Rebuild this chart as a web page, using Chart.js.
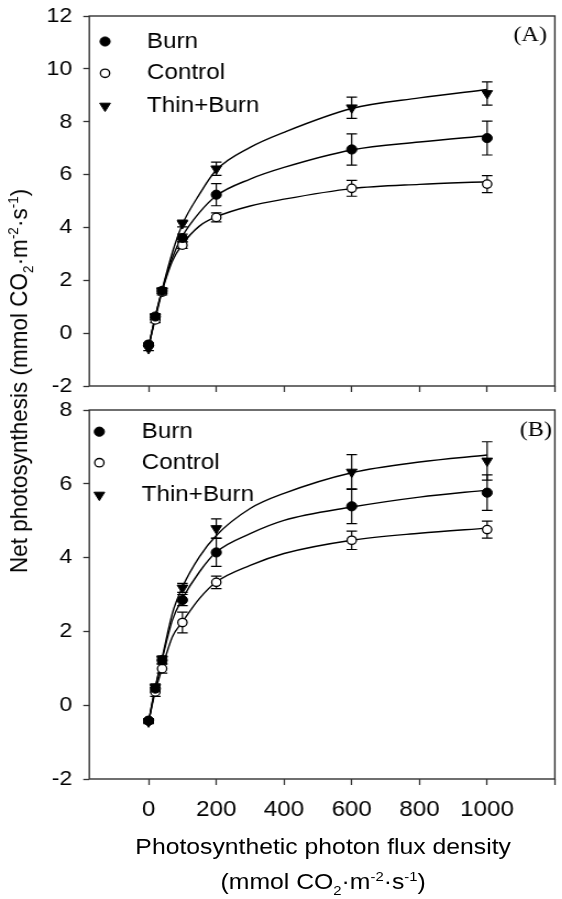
<!DOCTYPE html>
<html>
<head>
<meta charset="utf-8">
<script src="https://cdn.jsdelivr.net/npm/chart.js@4/dist/chart.umd.min.js"></script>
<style>
html,body{margin:0;padding:0;background:#fff;width:562px;height:899px;overflow:hidden}
#wrap{position:absolute;left:0;top:0;width:511px;height:899px;transform:scaleX(1.1);transform-origin:0 0;font-family:'Liberation Sans',Arial,sans-serif;color:#000}
canvas{position:absolute;left:0}
#cA{top:0}
#cB{top:400px}
.ytitle{position:absolute;left:18px;top:381px;transform:translate(-50%,-50%) rotate(-90deg);white-space:nowrap;font-size:22.5px;line-height:1}
.xt{position:absolute;left:293.8px;transform:translateX(-50%);white-space:nowrap;font-size:22.5px;line-height:22.5px}
sub,sup{font-size:60%;line-height:0}
</style>
</head>
<body>
<div id="wrap">
<canvas id="cA" width="511" height="400" style="width:511px;height:400px"></canvas>
<canvas id="cB" width="511" height="499" style="width:511px;height:499px"></canvas>
<div class="ytitle">Net photosynthesis (mmol CO<sub>2</sub>·m<sup>-2</sup>·s<sup>-1</sup>)</div>
<div class="xt" style="top:836px">Photosynthetic photon flux density</div>
<div class="xt" style="top:871px">(mmol CO<sub>2</sub>·m<sup>-2</sup>·s<sup>-1</sup>)</div>
</div>
<script>
// ---------- data ----------
const seriesNames = ['Burn', 'Control', 'Thin+Burn'];
const xPts = [0, 20, 40, 100, 200, 600, 1000];
const fitX = [0, 20, 40, 70, 100, 150, 200, 300, 400, 600, 800, 1000];
const xTicks = [0, 200, 400, 600, 800, 1000, 1200];
const yTicksA = [-2, 0, 2, 4, 6, 8, 10, 12];
const yTicksB = [-2, 0, 2, 4, 6, 8];

// Panel A
const aBurn       = [-0.45, 0.63, 1.60, 3.60, 5.24, 6.95, 7.38];
const aBurnErr    = [0.05, 0.10, 0.10, 0.15, 0.42, 0.59, 0.64];
const aControl    = [-0.42, 0.50, 1.55, 3.33, 4.38, 5.48, 5.64];
const aControlErr = [0.05, 0.10, 0.10, 0.12, 0.17, 0.30, 0.32];
const aThin       = [-0.58, 0.62, 1.60, 4.15, 6.22, 8.53, 9.07];
const aThinErr    = [0.08, 0.10, 0.10, 0.13, 0.25, 0.40, 0.44];
const aBurnFit    = [-0.50, 0.63, 1.62, 2.85, 3.67, 4.56, 5.20, 5.83, 6.27, 6.93, 7.23, 7.47];
const aControlFit = [-0.50, 0.55, 1.58, 2.72, 3.36, 4.05, 4.40, 4.81, 5.07, 5.47, 5.63, 5.73];
const aThinFit    = [-0.55, 0.65, 1.65, 3.04, 4.12, 5.25, 6.17, 7.03, 7.60, 8.50, 8.90, 9.22];

// Panel B
const bBurn       = [-0.42, 0.45, 1.22, 2.85, 4.14, 5.39, 5.76];
const bBurnErr    = [0.05, 0.10, 0.10, 0.15, 0.38, 0.47, 0.48];
const bControl    = [-0.42, 0.36, 0.99, 2.24, 3.33, 4.47, 4.76];
const bControlErr = [0.05, 0.12, 0.12, 0.28, 0.17, 0.25, 0.23];
const bThin       = [-0.45, 0.48, 1.24, 3.18, 4.79, 6.32, 6.62];
const bThinErr    = [0.05, 0.10, 0.10, 0.12, 0.26, 0.47, 0.52];
const bBurnFit    = [-0.45, 0.47, 1.24, 2.30, 2.89, 3.61, 4.15, 4.65, 5.01, 5.37, 5.64, 5.83];
const bControlFit = [-0.45, 0.38, 1.00, 1.85, 2.26, 2.89, 3.34, 3.79, 4.11, 4.47, 4.66, 4.80];
const bThinFit    = [-0.45, 0.50, 1.28, 2.48, 3.20, 4.02, 4.60, 5.33, 5.74, 6.30, 6.59, 6.78];

// ---------- styles ----------
const FONT = "'Liberation Sans', Arial, sans-serif";
Chart.defaults.font.family = FONT;
Chart.defaults.color = '#000';
const styles = [
  {pointStyle: 'circle', radius: 4.6, rotation: 0, bg: '#000', border: '#000', bw: 1},
  {pointStyle: 'circle', radius: 4.2, rotation: 0, bg: '#fff', border: '#000', bw: 1.3},
  {pointStyle: 'triangle', radius: 5.6, rotation: 180, bg: '#000', border: '#000', bw: 1}
];

const panelPlugin = {
  id: 'panelPlugin',
  beforeDatasetsDraw(chart) {
    const ctx = chart.ctx, xs = chart.scales.x, ys = chart.scales.y;
    const cap = 4.8;
    ctx.save();
    ctx.strokeStyle = '#000';
    ctx.lineWidth = 1.2;
    chart.data.datasets.forEach(ds => {
      if (!ds.errors) return;
      ds.data.forEach((pt, k) => {
        const e = ds.errors[k];
        if (!e) return;
        const px = xs.getPixelForValue(pt.x);
        const y1 = ys.getPixelForValue(pt.y + e);
        const y2 = ys.getPixelForValue(pt.y - e);
        ctx.beginPath();
        ctx.moveTo(px, y1); ctx.lineTo(px, y2);
        ctx.moveTo(px - cap, y1); ctx.lineTo(px + cap, y1);
        ctx.moveTo(px - cap, y2); ctx.lineTo(px + cap, y2);
        ctx.stroke();
      });
    });
    ctx.restore();
  },
  afterDraw(chart, args, opts) {
    const ctx = chart.ctx, a = chart.chartArea;
    ctx.save();
    ctx.strokeStyle = '#333';
    ctx.lineWidth = 1.4;
    ctx.strokeRect(a.left, a.top, a.right - a.left, a.bottom - a.top);
    // legend
    const lg = opts.legend;
    seriesNames.forEach((name, i) => {
      const s = styles[i];
      ctx.fillStyle = s.bg;
      ctx.strokeStyle = s.border;
      ctx.lineWidth = s.bw;
      Chart.helpers.drawPoint(ctx, {pointStyle: s.pointStyle, radius: s.radius, rotation: s.rotation, borderWidth: s.bw}, lg.mx, lg.rows[i]);
      ctx.fillStyle = '#000';
      ctx.font = '22px ' + FONT;
      ctx.textBaseline = 'middle';
      ctx.textAlign = 'left';
      ctx.fillText(name, lg.tx, lg.rows[i]);
    });
    // panel label
    ctx.font = "22px 'Liberation Serif', 'Times New Roman', serif";
    ctx.textAlign = 'right';
    ctx.textBaseline = 'middle';
    ctx.fillStyle = '#000';
    ctx.fillText(opts.label, opts.labelX, opts.labelY);
    ctx.restore();
  }
};

function makePanel(id, p) {
  const pts = [p.burn, p.control, p.thin];
  const errs = [p.burnErr, p.controlErr, p.thinErr];
  const fits = [p.burnFit, p.controlFit, p.thinFit];
  const datasets = [];
  pts.forEach((vals, i) => {
    const s = styles[i];
    datasets.push({
      label: seriesNames[i],
      data: xPts.map((x, k) => ({x: x, y: vals[k]})),
      showLine: false,
      pointStyle: s.pointStyle,
      pointRadius: s.radius,
      pointHoverRadius: s.radius,
      pointRotation: s.rotation,
      pointBackgroundColor: s.bg,
      pointBorderColor: s.border,
      pointBorderWidth: s.bw,
      errors: errs[i]
    });
  });
  fits.forEach((vals, i) => {
    datasets.push({
      label: seriesNames[i] + ' fit',
      data: fitX.map((x, k) => ({x: x, y: vals[k]})),
      showLine: true,
      pointRadius: 0,
      borderColor: '#000',
      borderWidth: 1.4,
      cubicInterpolationMode: 'monotone',
      fill: false
    });
  });
  new Chart(document.getElementById(id), {
    type: 'scatter',
    data: {datasets: datasets},
    options: {
      responsive: false,
      animation: false,
      events: [],
      layout: {padding: {top: p.padTop, right: 4.6, left: 0, bottom: 0}},
      plugins: {
        legend: {display: false},
        tooltip: {enabled: false},
        panelPlugin: {legend: p.legend, label: p.label, labelX: p.labelX, labelY: p.labelY}
      },
      scales: {
        x: {
          type: 'linear',
          min: -175, max: 1200,
          border: {display: false},
          grid: {drawOnChartArea: false, drawTicks: true, tickLength: 6, tickColor: '#333', tickWidth: 1.3},
          ticks: {
            font: {size: 22},
            padding: 12,
            maxRotation: 0,
            autoSkip: false,
            callback: v => (p.showXLabels && v !== 1200) ? String(v) : ''
          },
          afterBuildTicks: s => { s.ticks = xTicks.map(v => ({value: v})); },
          afterFit: s => { s.height = p.xHeight; s.paddingLeft = 0; s.paddingRight = 0; }
        },
        y: {
          type: 'linear',
          min: p.yTicks[0], max: p.yTicks[p.yTicks.length - 1],
          border: {display: false},
          grid: {drawOnChartArea: false, drawTicks: true, tickLength: 5.5, tickColor: '#333', tickWidth: 1.3},
          ticks: {font: {size: 21}, padding: 10},
          afterBuildTicks: s => { s.ticks = p.yTicks.map(v => ({value: v})); },
          afterFit: s => { s.width = 81.2; s.paddingTop = 0; s.paddingBottom = 0; }
        }
      }
    },
    plugins: [panelPlugin]
  });
}

makePanel('cA', {
  burn: aBurn, burnErr: aBurnErr, control: aControl, controlErr: aControlErr, thin: aThin, thinErr: aThinErr,
  burnFit: aBurnFit, controlFit: aControlFit, thinFit: aThinFit,
  yTicks: yTicksA, showXLabels: false, padTop: 16, xHeight: 14,
  legend: {mx: 95.5, tx: 133.6, rows: [41.5, 73.3, 106]},
  label: '(A)', labelX: 497.3, labelY: 35
});
makePanel('cB', {
  burn: bBurn, burnErr: bBurnErr, control: bControl, controlErr: bControlErr, thin: bThin, thinErr: bThinErr,
  burnFit: bBurnFit, controlFit: bControlFit, thinFit: bThinFit,
  yTicks: yTicksB, showXLabels: true, padTop: 10, xHeight: 120,
  legend: {mx: 90.3, tx: 128.8, rows: [31.7, 62.7, 95]},
  label: '(B)', labelX: 501.8, labelY: 30
});
</script>
</body>
</html>
